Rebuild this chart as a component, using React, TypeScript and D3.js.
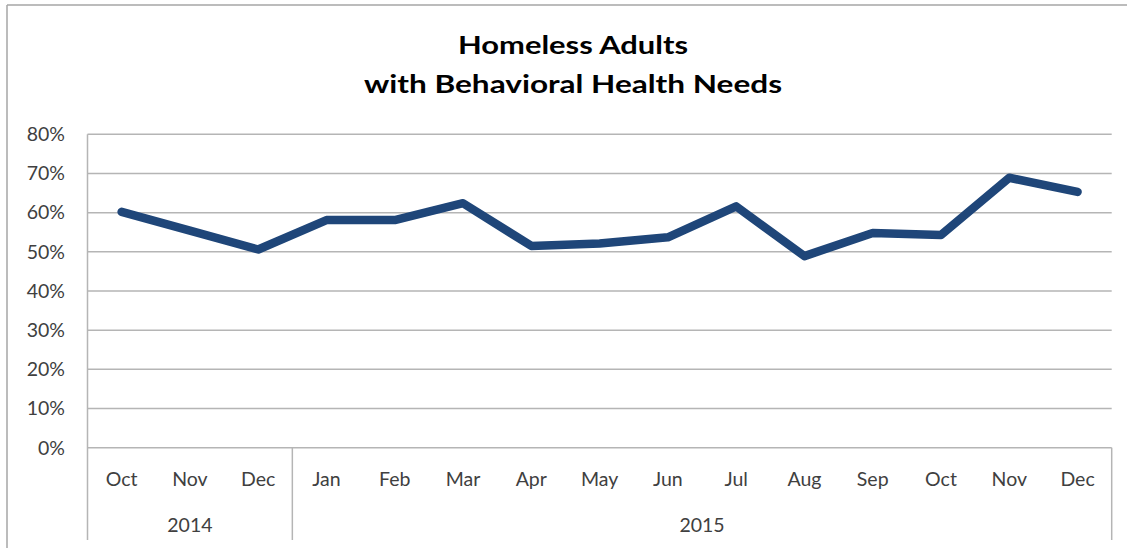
import React from "react";
import * as d3 from "d3";

const months = ["Oct", "Nov", "Dec", "Jan", "Feb", "Mar", "Apr", "May", "Jun", "Jul", "Aug", "Sep", "Oct", "Nov", "Dec"];
const years = ["2014", "2015"];
const yearSpans = [3, 12];
const values = [0.602, 0.554, 0.506, 0.581, 0.581, 0.624, 0.515, 0.521, 0.537, 0.616, 0.489, 0.548, 0.543, 0.689, 0.653];
const yTicks = [0, 0.1, 0.2, 0.3, 0.4, 0.5, 0.6, 0.7, 0.8];
const titleLines = ["Homeless Adults", "with Behavioral Health Needs"];

const W = 1127;
const H = 548;
const plot = { left: 87.5, right: 1111.7, top: 134.3, bottom: 447.7 };
const axisBottom = 540;
const labelFont = "Lato, 'Open Sans', sans-serif";

export default function App() {
  const keys = months.map((_, i) => String(i));
  const x = d3.scaleBand<string>().domain(keys).range([plot.left, plot.right]).padding(0);
  const y = d3.scaleLinear().domain([0, 0.8]).range([plot.bottom, plot.top]);
  const line = d3
    .line<number>()
    .x((_, i) => (x(String(i)) as number) + x.bandwidth() / 2)
    .y((d) => y(d));
  const pct = d3.format(".0%");

  // boundaries between the year groups on the category axis
  let acc = 0;
  const groups = years.map((yr, gi) => {
    const start = acc;
    acc += yearSpans[gi];
    const x0 = x(String(start)) as number;
    const x1 = (x(String(acc - 1)) as number) + x.bandwidth();
    return { yr, x0, x1 };
  });

  return (
    <svg
      width={W}
      height={H}
      style={{ position: "absolute", left: 0, top: 0, background: "#fff" }}
    >
      {/* chart frame */}
      <line x1={7} y1={5} x2={W} y2={5} stroke="#a6a6a6" strokeWidth={1.5} />
      <line x1={7} y1={5} x2={7} y2={H} stroke="#a6a6a6" strokeWidth={1.5} />

      {titleLines.map((t, i) => (
        <text
          key={i}
          x={573}
          y={54 + i * 39}
          textAnchor="middle"
          fontFamily={labelFont}
          fontWeight={700}
          fontSize={25}
          fill="#000"
          textLength={i === 0 ? 230 : 418}
          lengthAdjust="spacingAndGlyphs"
        >
          {t}
        </text>
      ))}

      {/* horizontal gridlines */}
      {yTicks.map((t) => (
        <line
          key={t}
          x1={plot.left}
          x2={plot.right}
          y1={y(t)}
          y2={y(t)}
          stroke="#b5b5b5"
          strokeWidth={1.5}
        />
      ))}
      {yTicks.map((t) => (
        <text
          key={"l" + t}
          x={65}
          y={y(t)}
          dy="0.35em"
          textAnchor="end"
          fontFamily={labelFont}
          fontSize={19.5}
          fill="#404040"
        >
          {pct(t)}
        </text>
      ))}

      {/* value axis line */}
      <line x1={plot.left} x2={plot.left} y1={plot.top} y2={axisBottom} stroke="#b5b5b5" strokeWidth={1.5} />

      {/* group separators on the category axis */}
      {groups.map((g) => (
        <line key={"s" + g.yr} x1={g.x1} x2={g.x1} y1={plot.bottom} y2={axisBottom} stroke="#b5b5b5" strokeWidth={1.5} />
      ))}

      {months.map((m, i) => (
        <text
          key={"m" + i}
          x={(x(String(i)) as number) + x.bandwidth() / 2}
          y={479}
          dy="0.35em"
          textAnchor="middle"
          fontFamily={labelFont}
          fontSize={19.5}
          fill="#404040"
        >
          {m}
        </text>
      ))}
      {groups.map((g) => (
        <text
          key={"y" + g.yr}
          x={(g.x0 + g.x1) / 2}
          y={525}
          dy="0.35em"
          textAnchor="middle"
          fontFamily={labelFont}
          fontSize={19.5}
          fill="#404040"
        >
          {g.yr}
        </text>
      ))}

      <path
        d={line(values) ?? ""}
        fill="none"
        stroke="#1f4679"
        strokeWidth={8.5}
        strokeLinejoin="round"
        strokeLinecap="round"
      />
    </svg>
  );
}
